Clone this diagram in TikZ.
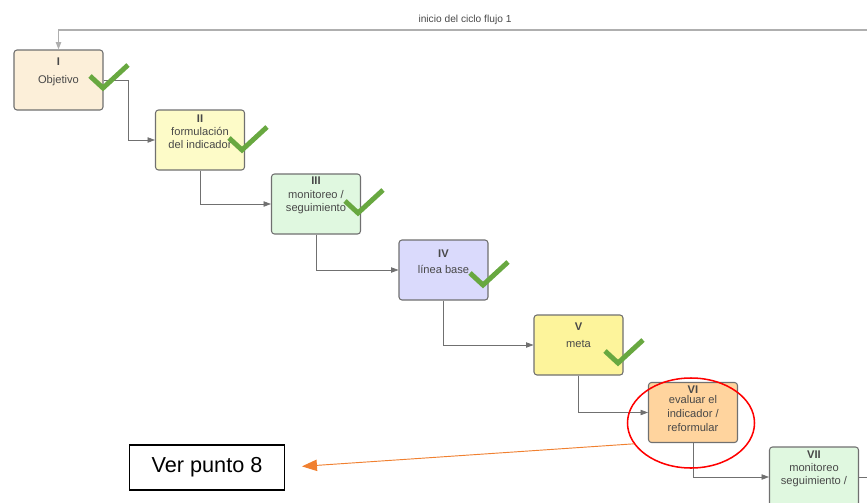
\documentclass[tikz,border=0pt]{standalone}
\usepackage{fontspec}
\setmainfont{Liberation Sans}
\usepackage{xcolor}
\usetikzlibrary{arrows.meta, positioning, shapes.geometric}
\definecolor{edge_col}{RGB}{112,112,112}
\definecolor{loop_col}{RGB}{175,175,175}
\definecolor{text_col}{RGB}{72,72,72}
\definecolor{ok_col}{RGB}{104,168,64}
\definecolor{obj_col}{RGB}{252,239,217}
\definecolor{form_col}{RGB}{253,251,200}
\definecolor{mon_col}{RGB}{224,248,224}
\definecolor{base_col}{RGB}{218,218,252}
\definecolor{meta_col}{RGB}{253,244,155}
\definecolor{eval_col}{RGB}{255,212,158}
\definecolor{note_col}{RGB}{240,128,48}

\begin{document}
\begin{tikzpicture}[x=0.03cm, y=-0.03cm,
    >={Triangle[length=2.2mm, width=1.6mm]},
    font=\fontsize{9.5}{11}\selectfont,
    stage/.style={draw=edge_col, line width=0.9pt, rounded corners=0.09cm,
      minimum width=2.67cm, minimum height=1.8cm, inner sep=0pt},
    stagetext/.style={inner sep=0pt, align=center, text=text_col},
    flow/.style={draw=edge_col, line width=0.6pt, ->},
    tickmark/.pic={\draw[ok_col, line width=4.2pt] (-13,-12) -- (0,0) -- (25,-23);}]
  \useasboundingbox (0,0) rectangle (867,502);

  % stages of the cycle
  \node[stage, fill=obj_col] (obj) at (58.5,80) {};
  \node[stagetext, below=0.24cm of obj.north] (objtxt)
    {\textbf{I}\\[4.3pt]Objetivo};

  \node[stage, fill=form_col] (form) at (200,140) {};
  \node[stagetext, below=0.15cm of form.north] (formtxt)
    {\textbf{II}\\formulación\\del indicador};

  \node[stage, fill=mon_col] (mon) at (316,204) {};
  \node[stagetext, below=0.09cm of mon.north] (montxt)
    {\textbf{III}\\[1pt]monitoreo /\\seguimiento};

  \node[stage, fill=base_col] (base) at (443.5,270) {};
  \node[stagetext, below=0.3cm of base.north] (basetxt)
    {\textbf{IV}\\[2.6pt]línea base};

  \node[stage, fill=meta_col] (meta) at (578.5,345) {};
  \node[stagetext, below=0.24cm of meta.north] (metatxt)
    {\textbf{V}\\[3.5pt]meta};

  \node[stage, fill=eval_col] (eval) at (693,412.5) {};
  \node[stagetext, below=0.1cm of eval.north] (evaltxt)
    {\textbf{VI}\\[-2.5pt]evaluar el\\[1pt]indicador /\\[1pt]reformular};

  \node[stage, fill=mon_col] (mon2) at (814,477) {};
  \node[stagetext, below=0.12cm of mon2.north] (mon2txt)
    {\textbf{VII}\\monitoreo\\seguimiento /};

  % connectors
  \coordinate (loopin) at (867,30);
  \coordinate (loopout) at (867,477);
  \draw[flow, draw=loop_col, line width=0.9pt] (loopin) -| (obj.north);
  \node[text=text_col, font=\fontsize{8.7}{10}\selectfont] (looplbl) at (465,20)
    {inicio del ciclo flujo 1};

  \draw[flow] (obj.east) -- ++(25,0) |- (form.west);
  \draw[flow] (form.south) |- (mon.west);
  \draw[flow] (mon.south) |- (base.west);
  \draw[flow] (base.south) |- (meta.west);
  \draw[flow] (meta.south) |- (eval.west);
  \draw[flow] (eval.south) |- (mon2.west);
  \draw[draw=edge_col, line width=0.6pt] (mon2.east) -- (loopout);

  % done marks
  \pic at (103,88) {tickmark};
  \pic at (242,150) {tickmark};
  \pic at (358,213) {tickmark};
  \pic at (483,285) {tickmark};
  \pic at (618,363) {tickmark};

  % highlight and note
  \node[draw=red, ellipse, line width=1.3pt, minimum width=3.81cm,
        minimum height=2.7cm, inner sep=0pt] (hilite) at (691,423) {};
  \node[draw=black, line width=1.4pt, minimum width=4.65cm, minimum height=1.35cm,
        font=\fontsize{18.5}{21}\selectfont] (verpunto) at (207,467.5) {Ver punto 8};
  \draw[note_col, line width=0.8pt, -{Triangle[length=4.5mm, width=3.4mm]},
        shorten >=5mm] (hilite.200) -- (verpunto.east);
\end{tikzpicture}
\end{document}
